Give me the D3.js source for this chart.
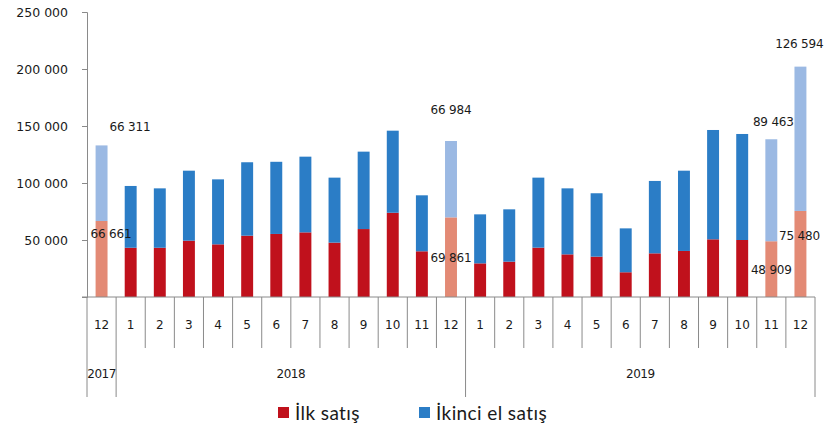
<!DOCTYPE html>
<html>
<head>
<meta charset="utf-8">
<script src="https://cdn.jsdelivr.net/npm/d3@7"></script>
<style>
  body { margin: 0; background: #fff; }
  svg { display: block; }
  text { font-family: "DejaVu Sans", sans-serif; fill: #1a1a1a; }
</style>
</head>
<body>
<svg></svg>
<script>
// chart values
let months = [12, 1, 2, 3, 4, 5, 6, 7, 8, 9, 10, 11, 12, 1, 2, 3, 4, 5, 6, 7, 8, 9, 10, 11, 12]
let years = ['2017', '2018', '2019']
let yearCounts = [1, 12, 12]
let ilkSatis = [66661, 43200, 43200, 49400, 46200, 53800, 55300, 56700, 47700, 59600, 73900, 40100, 69861,
                29500, 31000, 43300, 37400, 35400, 21700, 38300, 40400, 50600, 50000, 48909, 75480]
let ikinciEl = [66311, 54200, 52100, 61400, 57000, 64400, 63300, 66400, 57000, 67900, 72000, 49100, 66984,
                43000, 45900, 61400, 57900, 55600, 38500, 63500, 70400, 95900, 93000, 89463, 126594]
let highlighted = [0, 12, 23, 24]
let yTicks = [50000, 100000, 150000, 200000, 250000]
let seriesNames = ['İlk satış', 'İkinci el satış']

let width = 825
let height = 431
let plotLeft = 87
let plotRight = 815
let plotTop = 12
let plotBottom = 297

let svg = d3.select('svg').attr('width', width).attr('height', height)

let colors = {
    ilk: '#c0111c', ilkLight: '#e38a75',
    ikinci: '#2b7dc6', ikinciLight: '#9bb9e3'
}

let loc = d3.formatLocale({ thousands: ' ', grouping: [3], decimal: ',', currency: ['', ''] })
let fmt = loc.format(',')

let x = d3.scaleBand().domain(d3.range(months.length)).range([plotLeft, plotRight]).padding(0)
let y = d3.scaleLinear().domain([0, 250000]).range([plotBottom, plotTop])

let barW = x.bandwidth() * 0.41
let barX = i => x(i) + (x.bandwidth() - barW) / 2

// y axis
let yAxis = d3.axisLeft(y).tickValues(yTicks).tickSize(5).tickFormat(fmt)
let yg = svg.append('g').attr('transform', 'translate(' + plotLeft + ',0)').call(yAxis)
yg.select('.domain').attr('stroke', '#8a8a8a')
yg.selectAll('.tick line').attr('stroke', '#8a8a8a')
yg.selectAll('.tick text').attr('x', -19).style('font-size', '12.5px').style('font-family', '"DejaVu Sans", sans-serif').attr('fill', '#1a1a1a')

// bars
let rows = months.map((m, i) => ({ i: i, ilk: ilkSatis[i], ikinci: ikinciEl[i], hi: highlighted.includes(i) }))

svg.append('g').selectAll('rect.ilk')
    .data(rows).enter().append('rect')
    .attr('class', 'ilk')
    .attr('x', d => barX(d.i))
    .attr('width', barW)
    .attr('y', d => y(d.ilk))
    .attr('height', d => y(0) - y(d.ilk))
    .attr('fill', d => d.hi ? colors.ilkLight : colors.ilk)

svg.append('g').selectAll('rect.ikinci')
    .data(rows).enter().append('rect')
    .attr('class', 'ikinci')
    .attr('x', d => barX(d.i))
    .attr('width', barW)
    .attr('y', d => y(d.ilk + d.ikinci))
    .attr('height', d => y(d.ilk) - y(d.ilk + d.ikinci))
    .attr('fill', d => d.hi ? colors.ikinciLight : colors.ikinci)

// x axis: baseline, separators, labels
let axisColor = '#8a8a8a'
svg.append('line').attr('x1', plotLeft - 5).attr('x2', plotRight).attr('y1', plotBottom).attr('y2', plotBottom).attr('stroke', axisColor)

let yearEdges = [0]
yearCounts.forEach(c => yearEdges.push(yearEdges[yearEdges.length - 1] + c))

d3.range(months.length + 1).forEach(k => {
    let xx = k < months.length ? x(k) : plotRight
    let long = yearEdges.includes(k)
    svg.append('line')
        .attr('x1', xx).attr('x2', xx)
        .attr('y1', plotBottom).attr('y2', long ? 397 : 348)
        .attr('stroke', axisColor)
})

svg.append('g').selectAll('text')
    .data(months).enter().append('text')
    .attr('x', (m, i) => x(i) + x.bandwidth() / 2)
    .attr('y', 329)
    .attr('text-anchor', 'middle')
    .style('font-size', '12px')
    .text(m => m)

svg.append('g').selectAll('text')
    .data(years).enter().append('text')
    .attr('x', (yr, j) => (x(yearEdges[j]) + (yearEdges[j + 1] < months.length ? x(yearEdges[j + 1]) : plotRight)) / 2)
    .attr('y', 378)
    .attr('text-anchor', 'middle')
    .style('font-size', '12px')
    .style('letter-spacing', '-0.5px')
    .text(yr => yr)

// value labels on highlighted bars
let labelOffsets = {
    0: { top: [14, -14, 'start'], low: [-5, 17, 'start'] },
    12: { top: [0, -27, 'middle'], low: [0, 45, 'middle'] },
    23: { top: [2, -13, 'middle'], low: [0, 33, 'middle'] },
    24: { top: [23, -19, 'end'], low: [-1, 29, 'middle'] }
}
highlighted.forEach(i => {
    let cx = x(i) + x.bandwidth() / 2
    let o = labelOffsets[i]
    svg.append('text')
        .attr('x', (o.top[2] === 'start' ? barX(i) : cx) + o.top[0])
        .attr('y', y(ilkSatis[i] + ikinciEl[i]) + o.top[1])
        .attr('text-anchor', o.top[2])
        .style('font-size', '12px')
        .style('letter-spacing', '-0.2px')
        .text(fmt(ikinciEl[i]))
    svg.append('text')
        .attr('x', (o.low[2] === 'start' ? barX(i) : cx) + o.low[0])
        .attr('y', y(ilkSatis[i]) + o.low[1])
        .attr('text-anchor', o.low[2])
        .style('font-size', '12px')
        .style('letter-spacing', '-0.2px')
        .text(fmt(ilkSatis[i]))
})

// legend
let legend = svg.append('g')
let legendX = [278, 419]
seriesNames.forEach((name, k) => {
    legend.append('rect')
        .attr('x', legendX[k]).attr('y', 407)
        .attr('width', 11).attr('height', 11)
        .attr('fill', k === 0 ? colors.ilk : colors.ikinci)
    legend.append('text')
        .attr('x', legendX[k] + 17).attr('y', 420)
        .style('font-family', 'Lato, "Open Sans", sans-serif')
        .style('font-size', '19px')
        .style('letter-spacing', '0.4px')
        .text(name)
})
</script>
</body>
</html>
